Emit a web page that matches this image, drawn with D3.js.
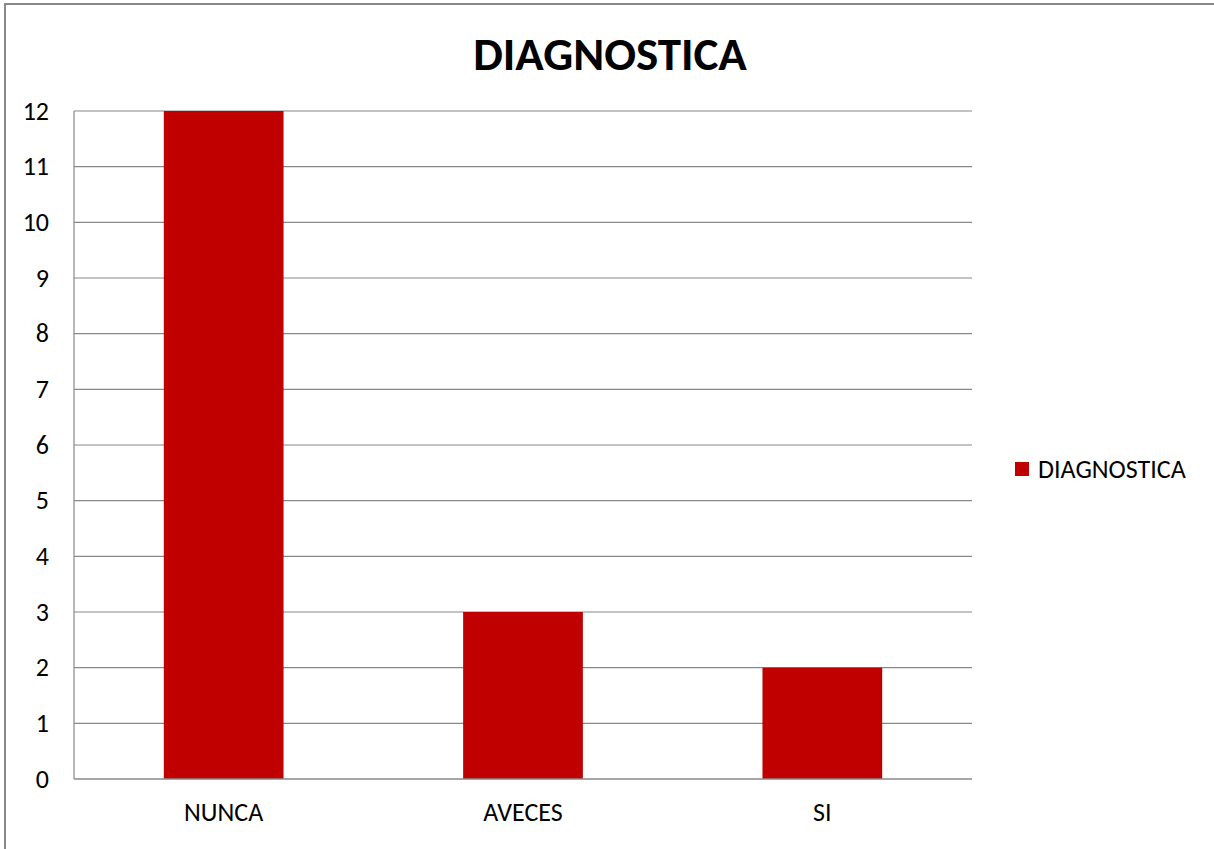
<!DOCTYPE html>
<html><head><meta charset="utf-8">
<script src="https://cdn.jsdelivr.net/npm/d3@7"></script>
<style>body{margin:0;background:#fff;}svg{display:block;font-family:Carlito,Calibri,"Open Sans",sans-serif;}</style>
</head><body><svg id="c" width="1214" height="849"></svg>
<script>
const title = "DIAGNOSTICA";
const seriesName = "DIAGNOSTICA";
const categories = ["NUNCA", "AVECES", "SI"];
const values = [12, 3, 2];
const yTicks = [0,1,2,3,4,5,6,7,8,9,10,11,12];

const FONT = "Carlito,Calibri,'Open Sans',sans-serif";
const svg = d3.select("#c");
const m = {left:74, right:972, top:111, bottom:779};
svg.append("rect").attr("x",5).attr("y",4).attr("width",1240).attr("height",900)
  .attr("fill","#fff").attr("stroke","#888").attr("stroke-width",2);

const x = d3.scaleBand().domain(categories).range([m.left,m.right]).paddingInner(0.6).paddingOuter(0.3);
const y = d3.scaleLinear().domain([0,12]).range([m.bottom,m.top]);

svg.append("g").selectAll("line").data(yTicks.filter(d=>d>0)).join("line")
  .attr("x1",m.left).attr("x2",m.right).attr("y1",d=>y(d)).attr("y2",d=>y(d))
  .attr("stroke","#888").attr("stroke-width",1.2);
svg.append("line").attr("x1",m.left).attr("x2",m.left).attr("y1",m.top).attr("y2",m.bottom)
  .attr("stroke","#888").attr("stroke-width",1.2);

svg.append("g").selectAll("rect").data(values).join("rect")
  .attr("x",(d,i)=>x(categories[i])).attr("width",x.bandwidth())
  .attr("y",d=>y(d)).attr("height",d=>y(0)-y(d)).attr("fill","#C00000");

svg.append("line").attr("x1",m.left).attr("x2",m.right).attr("y1",m.bottom).attr("y2",m.bottom)
  .attr("stroke","#888").attr("stroke-width",1.5);

const ya = svg.append("g").attr("transform",`translate(${m.left},0)`)
  .call(d3.axisLeft(y).tickValues(yTicks).tickSize(0).tickPadding(25).tickFormat(d3.format("d")));
ya.select(".domain").remove();
ya.selectAll("text").attr("font-size",26).attr("fill","#000").attr("font-family",FONT);

const xa = svg.append("g").attr("transform",`translate(0,${m.bottom})`)
  .call(d3.axisBottom(x).tickSize(0).tickPadding(24));
xa.select(".domain").remove();
xa.selectAll("text").attr("font-size",26).attr("fill","#000").attr("font-family",FONT);

svg.append("text").attr("x",610).attr("y",70).attr("text-anchor","middle")
  .attr("font-size",47).attr("font-weight","bold").attr("font-family",FONT).text(title);

svg.append("rect").attr("x",1015).attr("y",462).attr("width",14).attr("height",14).attr("fill","#C00000");
svg.append("text").attr("x",1038).attr("y",478).attr("font-size",26).attr("font-family",FONT).text(seriesName);
</script></body></html>
